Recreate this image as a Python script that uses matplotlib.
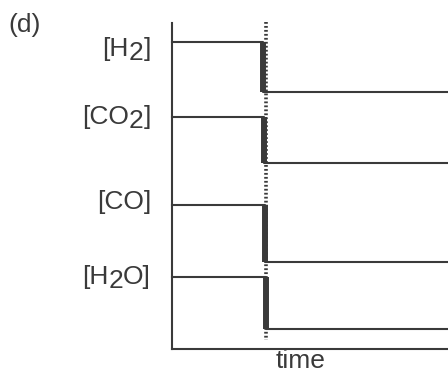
import matplotlib.pyplot as plt

plt.rcParams['font.family'] = ['Liberation Sans', 'DejaVu Sans']

# label pieces: (text, vertical shift in points) -> subscripts drawn lower
labels = [
    [("[H", 0), ("2", -3), ("]", 0)],
    [("[CO", 0), ("2", -3), ("]", 0)],
    [("[CO]", 0)],
    [("[H", 0), ("2", -3), ("O]", 0)],
]
# levels in axes units (0 = time axis, 1 = top of y axis)
high = [0.942, 0.712, 0.442, 0.221]
low = [0.788, 0.571, 0.267, 0.061]
t_step = [0.331, 0.334, 0.337, 0.341]
label_y = [0.899, 0.690, 0.429, 0.199]
t_marker = 0.341

col = '#3a3a3a'
fs = 19

fig = plt.figure(figsize=(4.48, 3.73), dpi=100)
ax = fig.add_axes([172/448, 24/373, 276/448, 326/373])
ax.set_xlim(0, 1)
ax.set_ylim(0, 1)

# dotted marker of the switching time
ax.plot([t_marker, t_marker], [1.003, 0.028], color=col, lw=2.6,
        ls=(0, (0.5, 0.6)), clip_on=False, zorder=1)

for h, l, t in zip(high, low, t_step):
    ax.plot([0, t, t, 1], [h, h, l, l], color=col, lw=1.5, clip_on=False, zorder=2)
    ax.plot([t, t], [h, l], color=col, lw=4.3, solid_capstyle='butt', zorder=3)


def chained_label(ax, x, y, parts):
    prev = None
    prev_dy = 0
    for s, dy in reversed(parts):
        if prev is None:
            prev = ax.text(x, y, s, ha='right', va='baseline', fontsize=fs,
                           color=col, clip_on=False)
        else:
            prev = ax.annotate(s, xy=(0, 0), xycoords=prev,
                               xytext=(0, dy - prev_dy), textcoords='offset points',
                               ha='right', va='bottom', fontsize=fs, color=col)
        prev_dy = dy


for parts, y in zip(labels, label_y):
    chained_label(ax, -0.076, y, parts)

ax.text(0.464, -0.058, 'time', ha='center', va='baseline', fontsize=fs,
        color=col, transform=ax.transAxes)
fig.text(8/448, 1 - 32/373, '(d)', va='baseline', fontsize=fs, color=col)

for side in ['top', 'right']:
    ax.spines[side].set_visible(False)
for side in ['left', 'bottom']:
    ax.spines[side].set_linewidth(1.5)
    ax.spines[side].set_color(col)
ax.set_xticks([])
ax.set_yticks([])

fig.savefig('out.png', dpi=100)
